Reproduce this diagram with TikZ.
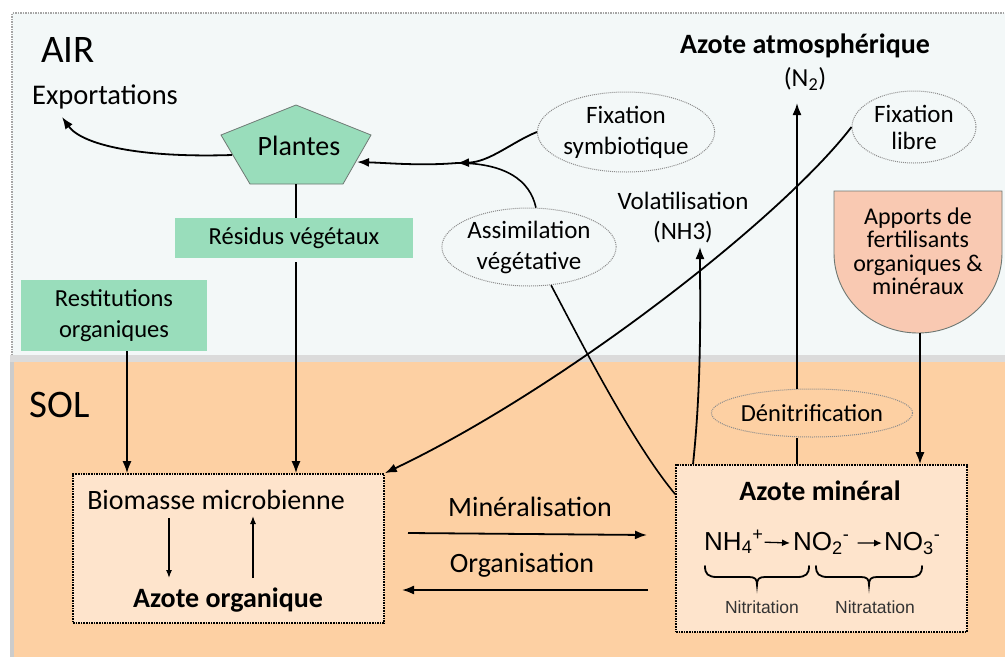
\documentclass[tikz,border=0pt]{standalone}
\usepackage{fontspec}
\setmainfont{Carlito}
\newfontfamily\arialf{Liberation Sans}
\usetikzlibrary{shapes.geometric,arrows.meta,calc}
\definecolor{airbg}{RGB}{243,248,248}
\definecolor{solbg}{RGB}{253,208,163}
\definecolor{boxbg}{RGB}{254,228,204}
\definecolor{vert}{RGB}{153,221,187}
\definecolor{saumon}{RGB}{249,201,178}
\definecolor{bord}{RGB}{110,120,115}
\newcommand{\fs}[1]{\fontsize{#1}{#1}\selectfont}
\newcommand{\mybrace}[3]{% x0, x1, xm
  \draw[line width=1.8pt,line cap=round] (#1,566) .. controls (#1,574) and (#1+3,577) .. (#1+12,577) -- (#3-8,577) .. controls (#3-2,577) and (#3,579) .. (#3,585) .. controls (#3,579) and (#3+2,577) .. (#3+8,577) -- (#2-12,577) .. controls (#2-3,577) and (#2,574) .. (#2,566);}
\tikzset{
  arr/.style={line width=1.8pt,-{Latex[length=12pt,width=9pt]}},
  ln/.style={line width=1.6pt},
  small/.style={line width=1.2pt,-{Latex[length=8pt,width=6pt]}},
  ell/.style={ellipse,draw=gray!90,densely dotted,line width=1pt,inner sep=0pt,align=center,font=\fs{25}},
  dbox/.style={rectangle,draw=black,densely dotted,line width=1.6pt,fill=boxbg,inner sep=0pt},
  gbox/.style={rectangle,fill=vert,inner sep=0pt,align=center,font=\fs{24.5}},
  lab/.style={inner sep=0pt,align=center},
  chem/.style={inner sep=0pt,font=\arialf\fs{26},anchor=base west},
}
\begin{document}
\begin{tikzpicture}[x=1pt,y=-1pt]
\useasboundingbox (0,0) rectangle (1005,657);
\fill[white] (0,0) rectangle (1005,657);
% AIR zone
\fill[airbg] (12,13) rectangle (1005,360);
\draw[gray!70,densely dotted,line width=1.5pt] (12,360) -- (12,13) -- (1005,13);
% SOL zone
\fill[gray!28] (10,355) rectangle (1005,362);
\fill[gray!40] (10,362) rectangle (14,657);
\fill[solbg] (14,362) rectangle (1005,657);

\node[lab,font=\fs{39}] (air) at (68,50) {AIR};
\node[lab,font=\fs{39}] (sol) at (60,405) {SOL};
\node[lab,font=\fs{28.5}] (export) at (105,97) {Exportations};
\coordinate (exptip) at (62,117);

% Plantes pentagon
\draw[draw=bord,fill=vert,line width=0.8pt] (296,105) -- (371,135) -- (343,184) -- (250,184) -- (221,135) -- cycle;
\node[lab,font=\fs{28}] (plantes) at (299,146) {Plantes};
\coordinate (plleft) at (232,155);
\coordinate (plright) at (357,162);
\coordinate (plbottom) at (296,184);

\node[gbox,minimum width=238pt,minimum height=40pt] (residus) at (294,238) {Résidus végétaux};
\node[gbox,minimum width=186pt,minimum height=71pt] (restit) at (114,315.5) {Restitutions\\[6pt]organiques};

% ellipses
\node[ell,fill=airbg,minimum width=168pt,minimum height=80pt] (symb) at (626,132) {Fixation\\[6pt]symbiotique};
\node[ell,fill=airbg,minimum width=124pt,minimum height=72pt] (libre) at (914,127) {Fixation\\[2pt]libre};
\node[ell,fill=airbg,minimum width=168pt,minimum height=78pt] (assim) at (529,247) {Assimilation\\[6pt]végétative};
\node[ell,fill=solbg,minimum width=184pt,minimum height=48pt,font=\fs{24.5}] (denit) at (812,413) {Dénitrification};

\node[lab,font=\bfseries\fs{28}] (atmo) at (805,46) {Azote atmosphérique};
\node[lab,font=\fs{26}] (n2) at (805,79) {(N\textsubscript{2})};
\node[lab,font=\fs{25}] (volat) at (683,218) {Volatilisation\\[5pt](NH3)};

% Apports
\draw[draw=bord,fill=saumon,line width=0.9pt] (834,191) -- (1002,191) -- (1002,253) arc[start angle=0,end angle=-180,x radius=84pt,y radius=80pt] -- cycle;
\node[lab,font=\fontsize{24}{23.5}\selectfont] (apports) at (918,251) {Apports de\\fertilisants\\organiques \&\\minéraux};
\coordinate (apbottom) at (920,333);

% Boxes in soil
\node[dbox,minimum width=311pt,minimum height=149pt] (bio) at (228.5,548.5) {};
\node[lab,font=\fs{28}] (biomic) at (216,500) {Biomasse microbienne};
\node[lab,font=\bfseries\fs{28}] (azorg) at (228,600) {Azote organique};
\node[dbox,minimum width=291pt,minimum height=167pt] (min) at (821.5,548.5) {};
\node[lab,font=\bfseries\fs{28}] (azmin) at (820,491) {Azote minéral};

% chemistry
\node[chem] (nh4) at (704,550) {NH\textsubscript{4}\textsuperscript{+}};
\node[chem] (no2) at (793,550) {NO\textsubscript{2}\textsuperscript{-}};
\node[chem] (no3) at (884,550) {NO\textsubscript{3}\textsuperscript{-}};
\draw[line width=1.3pt,-{Latex[length=8pt,width=7pt]}] ([xshift=1pt]nh4.east) -- ([xshift=-3pt]no2.west);
\draw[line width=1.3pt,-{Latex[length=8pt,width=7pt]}] ([xshift=8pt]no2.east) -- ([xshift=-2pt]no3.west);
\mybrace{705}{809}{757}
\mybrace{816}{922}{869}
\node[lab,font=\arialf\fs{17.5},text=black!80] (nitri) at (762,607) {Nitritation};
\node[lab,font=\arialf\fs{17.5},text=black!80] (nitra) at (875,607) {Nitratation};

% connectors
\draw[arr] (plleft) .. controls (140,158) and (82,145) .. (exptip);
\coordinate (merge) at (457,163);
\draw[ln] (assim.80) .. controls (530,180) and (505,163) .. (merge);
\draw[arr] (symb.west) .. controls (512,142) and (490,162) .. (merge);
\draw[arr] (merge) .. controls (420,166) and (390,163) .. (plright);
\draw[ln] (plbottom) -- (plbottom |- residus.north);
\draw[arr] ([yshift=-4pt]plbottom |- residus.south) -- (plbottom |- bio.north);
\draw[arr] ([xshift=13pt]restit.south) -- ([xshift=13pt]restit.south |- bio.north);
\draw[small] (169,518) -- (169,578);
\draw[small] (253,578) -- (253,516);
\draw[arr] (libre.west) .. controls (780,220) and (560,390) .. (bio.north east);
\draw[ln] (assim.-60) .. controls (575,330) and (630,440) .. ([yshift=-30pt]min.north west);
\draw[arr] (min.north -| 693,0) .. controls (702,380) and (700,300) .. (700,247);
\draw[ln] (min.north -| 797,0) -- (denit.south -| 797,0);
\draw[arr] (denit.north -| 797,0) -- (797,103);
\draw[arr] (apbottom) -- (min.north -| apbottom);
\node[lab,font=\fs{28}] (mineralis) at (530,507) {Minéralisation};
\node[lab,font=\fs{28}] (organis) at (522,565) {Organisation};
\draw[arr] (408,533) -- (647,535);
\draw[arr] (648,590) -- (402,590);
\end{tikzpicture}
\end{document}
